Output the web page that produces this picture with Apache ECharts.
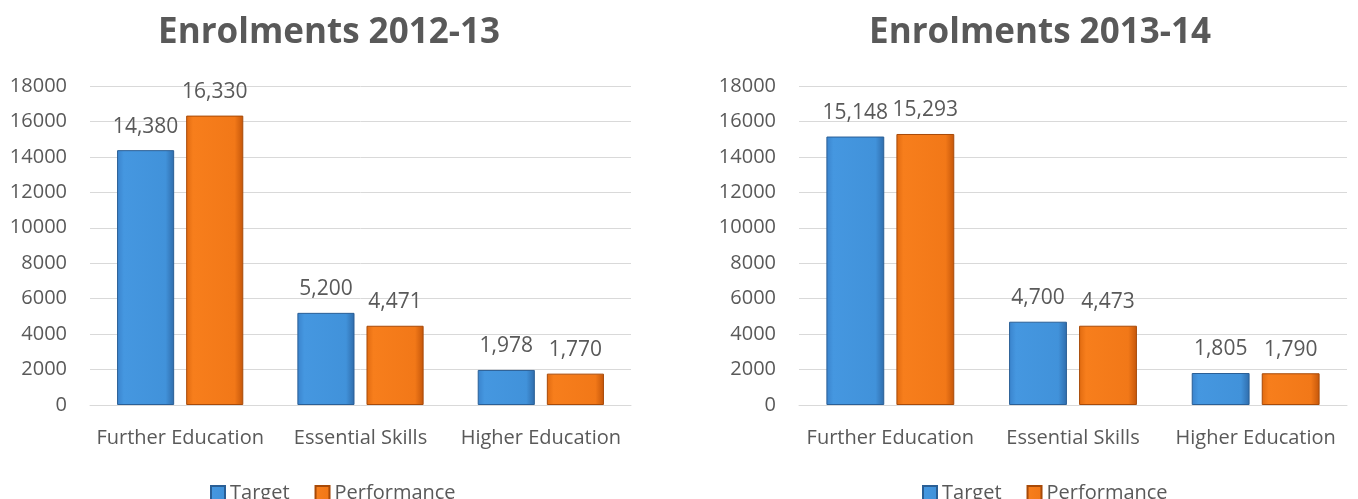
<!DOCTYPE html>
<html><head><meta charset="utf-8">
<script src="https://cdn.jsdelivr.net/npm/echarts@6/dist/echarts.min.js"></script>
<style>html,body{margin:0;padding:0;background:#fff}#c{width:1358px;height:499px}</style>
</head><body><div id="c"></div>
<script>
const categories = ['Further Education', 'Essential Skills', 'Higher Education'];
const target1213 = [14380, 5200, 1978];
const perf1213 = [16330, 4471, 1770];
const target1314 = [15148, 4700, 1805];
const perf1314 = [15293, 4473, 1790];
const yTicks = [0, 2000, 4000, 6000, 8000, 10000, 12000, 14000, 16000, 18000];
const titles = ['Enrolments 2012-13', 'Enrolments 2013-14'];
const legendNames = ['Target', 'Performance'];

const FONT = '"Open Sans", sans-serif';
const TXT = '#595959';
const blue = new echarts.graphic.LinearGradient(0, 0, 1, 0, [
  {offset: 0, color: '#3a83cc'}, {offset: 0.12, color: '#4597e0'}, {offset: 0.85, color: '#4192da'}, {offset: 1, color: '#2f6cab'}]);
const orange = new echarts.graphic.LinearGradient(0, 0, 1, 0, [
  {offset: 0, color: '#e06a10'}, {offset: 0.12, color: '#f77e1c'}, {offset: 0.85, color: '#f27818'}, {offset: 1, color: '#c4560a'}]);

const chart = echarts.init(document.getElementById('c'), null, {renderer: 'canvas'});
const grids = [
  {left: 90, right: 727, top: 86, bottom: 94},
  {left: 799, right: 11, top: 86, bottom: 94}
];
function xAx(i){return {type:'category', gridIndex:i, data:categories,
  axisLine:{lineStyle:{color:'#d9d9d9', width:1}}, axisTick:{show:false},
  axisLabel:{interval:0, color:TXT, fontFamily:FONT, fontSize:20, margin:23}};}
function yAx(i){return {type:'value', gridIndex:i, min:yTicks[0], max:yTicks[yTicks.length-1], interval:2000,
  axisLine:{show:false}, axisTick:{show:false},
  splitLine:{lineStyle:{color:'#d9d9d9', width:1}},
  axisLabel:{color:TXT, fontFamily:FONT, fontSize:20, margin:23, formatter:v=>String(v)}};}
function ser(name, data, i, color, border){
  return {name, type:'bar', xAxisIndex:i, yAxisIndex:i, data,
    barGap:'21%', barCategoryGap:'30%',
    itemStyle:{color, borderColor:border, borderWidth:1},
    label:{show:true, position:'top', distance:13, color:TXT, fontFamily:FONT, fontSize:21,
      formatter:p=>p.value.toLocaleString('en-US')}};
}
function leg(left){
  return {left, top:478, itemWidth:14, itemHeight:14, itemGap:25,
    textStyle:{fontFamily:FONT, fontSize:20, color:TXT},
    data:legendNames.map(n=>({name:n, icon:'rect'}))};
}
chart.setOption({
  animation:false,
  title:[
    {text:titles[0], left:324, top:11, textAlign:'center', textStyle:{fontFamily:FONT, fontWeight:'bold', fontSize:35, color:TXT}},
    {text:titles[1], left:1035, top:11, textAlign:'center', textStyle:{fontFamily:FONT, fontWeight:'bold', fontSize:35, color:TXT}}
  ],
  legend:[leg(205), leg(917)],
  grid:grids,
  xAxis:[xAx(0), xAx(1)],
  yAxis:[yAx(0), yAx(1)],
  series:[
    ser('Target', target1213, 0, blue, '#2a5f96'),
    ser('Performance', perf1213, 0, orange, '#a84a08'),
    ser('Target', target1314, 1, blue, '#2a5f96'),
    ser('Performance', perf1314, 1, orange, '#a84a08')
  ]
});
</script></body></html>
